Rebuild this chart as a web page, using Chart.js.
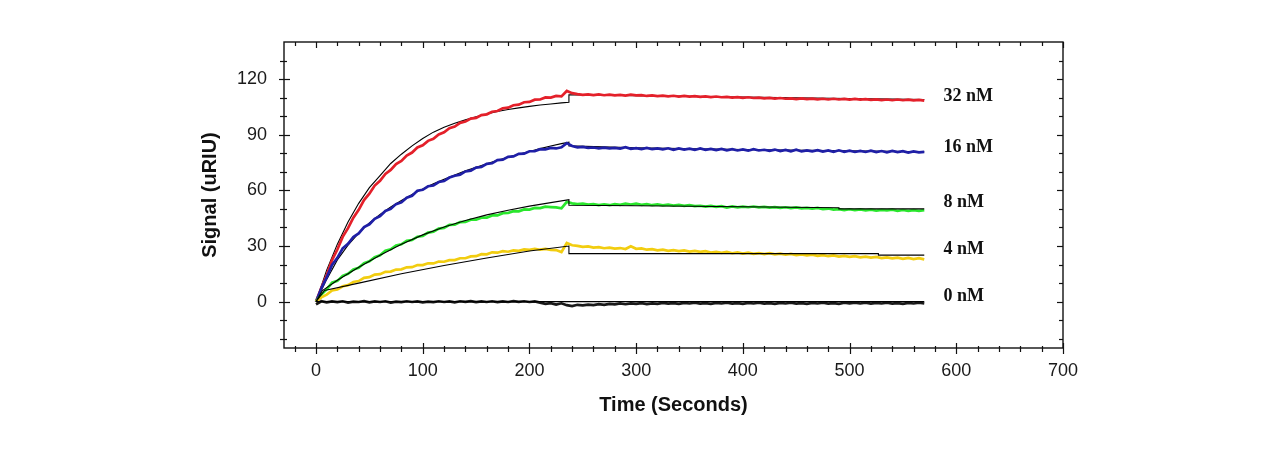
<!DOCTYPE html>
<html>
<head>
<meta charset="utf-8">
<script src="https://cdn.jsdelivr.net/npm/chart.js@4/dist/chart.umd.min.js"></script>
<style>
  html, body { margin: 0; padding: 0; background: #fff; }
  #wrap { width: 1280px; height: 450px; }
</style>
</head>
<body>
<div id="wrap"><canvas id="c" width="1280" height="450"></canvas></div>
<script>
// ---- sample times (s) ----
const times = [0,5,10,15,20,25,30,35,40,45,50,55,60,65,70,75,80,85,90,95,
  100,105,110,115,120,125,130,135,140,145,150,155,160,165,170,175,180,185,190,195,
  200,205,210,215,220,225,230,235,240,245,250,255,260,265,270,275,280,285,290,295,
  300,305,310,315,320,325,330,335,340,345,350,355,360,365,370,375,380,385,390,395,
  400,405,410,415,420,425,430,435,440,445,450,455,460,465,470,475,480,485,490,495,
  500,505,510,515,520,525,530,535,540,545,550,555,560,565,570];

// ---- measured signal (uRIU) ----
const nM32 = [0,7.5,14.2,22.4,28.1,34.9,39.6,45.3,49.5,54.8,58.2,62.6,65.2,68.9,71.0,74.2,75.9,78.8,80.4,83.1,
  84.3,86.7,87.8,90.1,91.3,93.5,94.4,96.4,97.1,98.7,99.1,100.6,101.0,102.4,102.8,104.2,104.6,105.9,106.2,107.5,
  107.7,108.9,109.0,110.1,110.0,110.9,110.7,113.6,112.4,111.9,111.5,111.8,111.4,111.7,111.3,111.6,111.2,111.5,111.1,111.6,
  111.2,111.3,110.9,111.2,110.8,111.1,110.7,111.0,110.6,110.9,110.5,110.8,110.4,110.7,110.3,110.6,110.2,110.4,110.0,110.3,
  109.9,110.2,109.8,110.0,109.6,109.9,109.5,109.8,109.4,109.6,109.2,109.6,109.2,109.5,109.1,109.4,109.0,109.4,109.0,109.3,
  108.9,109.3,108.9,109.2,108.8,109.1,108.7,109.0,108.6,109.0,108.6,108.9,108.5,108.8,108.4];
const nM16 = [0,7.2,13.1,19.8,23.6,28.7,31.2,34.9,36.8,40.2,41.7,44.6,46.1,48.9,50.0,52.6,53.5,56.0,57.1,59.8,
  60.3,62.2,62.6,64.5,65.0,66.9,67.9,68.5,70.2,70.6,72.3,72.6,74.3,74.6,76.3,76.6,78.1,78.3,79.7,79.8,
  81.1,81.1,82.2,82.1,82.9,82.6,83.2,85.5,83.9,83.2,83.4,82.9,83.1,82.7,83.0,82.6,82.9,82.5,83.3,82.4,
  82.8,82.3,82.9,82.2,82.6,82.1,82.7,81.9,82.6,82.0,82.5,81.8,82.6,81.9,82.4,81.7,82.3,81.6,82.2,81.5,
  82.1,81.4,82.2,81.5,81.9,81.3,82.0,81.2,81.8,81.1,81.9,81.0,81.6,81.0,81.7,80.9,81.5,80.8,81.6,80.8,
  81.4,80.7,81.3,80.7,81.4,80.6,81.2,80.5,81.3,80.6,81.1,80.4,81.0,80.5,80.8];
const nM8 = [0,3.8,6.6,10.2,11.2,13.9,15.0,17.3,18.2,20.7,21.7,24.0,25.0,27.4,28.2,30.3,30.9,32.8,33.2,35.0,
  35.4,37.2,37.7,39.4,39.8,41.4,41.5,42.9,43.0,44.2,44.2,45.3,45.3,46.5,46.5,47.7,47.8,48.8,48.7,49.7,
  49.6,50.5,50.4,51.2,51.0,50.8,50.3,53.8,53.0,52.6,52.9,52.3,52.6,52.1,52.5,52.0,52.6,52.2,52.9,52.3,
  52.8,52.2,52.6,52.0,52.4,51.9,52.3,51.8,52.2,51.6,52.0,51.5,51.7,51.2,51.6,51.1,51.5,50.7,51.3,50.8,
  51.2,50.9,51.3,50.8,51.1,50.7,51.0,50.6,50.9,50.4,50.8,50.3,50.6,50.2,50.5,49.9,50.2,49.6,49.9,49.4,
  49.8,49.3,49.7,49.2,49.6,49.1,49.5,49.2,49.6,49.0,49.4,48.9,49.3,48.9,49.3];
const nM4 = [0,2.3,3.8,6.0,6.5,8.3,8.9,10.6,11.1,12.8,13.2,14.6,14.8,16.1,16.2,17.3,17.4,18.5,18.6,19.7,
  19.7,20.7,20.6,21.6,21.5,22.4,22.4,23.4,23.4,24.4,24.5,25.6,25.5,26.6,26.4,27.2,26.9,27.6,27.4,28.2,
  27.9,28.5,28.0,28.4,27.9,27.8,26.7,31.6,30.4,30.1,29.5,29.8,29.1,29.4,28.8,29.1,28.6,28.9,28.4,29.9,
  28.5,28.7,28.0,28.3,27.7,28.0,27.4,27.8,27.2,27.6,27.0,27.4,26.8,27.2,26.5,26.9,26.3,26.8,26.1,26.6,
  25.9,26.4,25.8,26.2,25.6,26.1,25.5,25.9,25.3,25.7,25.1,25.5,24.9,25.3,24.7,25.1,24.5,24.9,24.3,24.7,
  24.1,24.5,23.9,24.3,23.7,24.1,23.5,23.9,23.3,23.7,23.1,23.6,22.9,23.4,22.8];
const nM0 = [-1.5,0.2,-0.4,0.1,-0.3,0.2,-0.5,0.0,-0.2,0.3,-0.4,0.1,-0.2,0.2,-0.5,0.0,-0.3,0.2,-0.2,0.1,
  -0.4,0.0,-0.3,0.2,-0.2,0.1,-0.4,0.2,-0.1,0.3,-0.3,0.1,-0.2,0.2,-0.3,0.1,-0.2,0.3,-0.1,0.2,
  -0.2,0.1,-0.5,-1.2,-0.8,-1.6,-0.9,-1.9,-2.4,-1.7,-2.0,-1.6,-1.9,-1.4,-1.7,-1.2,-1.5,-1.0,-1.4,-0.9,
  -1.2,-0.8,-1.3,-0.9,-1.2,-0.7,-1.1,-0.8,-1.2,-0.7,-1.0,-0.6,-1.1,-0.8,-1.2,-0.7,-1.0,-0.6,-1.1,-0.8,
  -1.2,-0.7,-1.0,-0.6,-1.1,-0.8,-1.2,-0.7,-1.0,-0.6,-1.1,-0.8,-1.2,-0.7,-1.0,-0.6,-1.1,-0.8,-1.2,-0.6,
  -0.9,-0.5,-1.0,-0.6,-1.1,-0.7,-1.0,-0.6,-1.1,-0.8,-1.2,-0.7,-1.0,-0.6,-1.0];

// ---- fitted curves ----
const fit32T = [0,10,20,30,40,50,60,70,80,90,100,110,120,130,140,150,160,170,180,190,200,210,220,230,237,237,260,300,350,400,450,500,540,570];
const fit32V = [0,17,31,43,53,61.5,68,74.5,79.5,84,88,91.4,94,96.2,98,99.7,101.2,102.5,103.6,104.5,105.3,106,106.6,107.2,107.5,111.5,111.4,111.1,110.7,110.3,109.9,109.5,109.2,109];
const fit16T = [0,10,20,30,40,50,60,70,80,90,100,110,120,130,140,150,160,170,180,190,200,210,220,230,237,237,300,400,500,570];
const fit16V = [0,12,22.5,30.5,37,42.5,47,51,54.5,57.8,60.8,63.5,66,68.3,70.5,72.5,74.4,76.2,77.9,79.5,81,82.5,83.9,85.2,86,84,83,82,81.3,80.8];
const fit8T = [0,6,20,40,60,80,100,120,140,160,180,200,220,237,237,300,400,490,490,570];
const fit8V = [0,6,11.5,18.5,25,31,36,40.3,43.8,46.8,49.3,51.5,53.4,55,52,51.7,51.2,50.6,50,50];
const fit4T = [0,8,40,80,120,160,200,237,237,527,527,570];
const fit4V = [0,6,10,15,19.5,23.5,27.3,30,25.9,25.9,25.1,25.1];
const fit0T = [0,570];
const fit0V = [0,0];

// ---- axis ticks & curve labels ----
const xTickValues = [0,100,200,300,400,500,600,700];
const yTickValues = [0,30,60,90,120];
const concLabels = ['32 nM','16 nM','8 nM','4 nM','0 nM'];
const concLabelX = [588,588,588,588,588];
const concLabelY = [110.5,83,53.6,28.2,2.8];

const pts = (t, v) => t.map((x, i) => ({x, y: v[i]}));

const dataLine = (d, color) => ({data: pts(times, d), borderColor: color, borderWidth: 2.7, pointRadius: 0, tension: 0, order: 2});
const fitLine = (t, v, order) => ({data: pts(t, v), borderColor: '#000', borderWidth: 1.1, pointRadius: 0, tension: 0, order});

const FONT = "'Liberation Sans', Arial, sans-serif";

const frame = {
  id: 'frame',
  afterDraw(chart) {
    const {ctx, chartArea: a, scales: {x, y}} = chart;
    ctx.save();
    ctx.strokeStyle = '#111';
    ctx.lineWidth = 1.4;
    ctx.strokeRect(a.left, a.top, a.right - a.left, a.bottom - a.top);
    ctx.lineWidth = 1.2;
    const seg = (x1, y1, x2, y2) => { ctx.beginPath(); ctx.moveTo(x1, y1); ctx.lineTo(x2, y2); ctx.stroke(); };
    for (let v = -20; v <= 700; v += 20) {
      const px = Math.round(x.getPixelForValue(v)) + 0.5;
      const major = v % 100 === 0;
      seg(px, a.bottom - (major ? 5 : 2), px, a.bottom + (major ? 6 : 4));
      seg(px, a.top, px, a.top + (major ? 6 : 4));
    }
    for (let v = -20; v <= 130; v += 10) {
      const py = Math.round(y.getPixelForValue(v)) + 0.5;
      const major = v % 30 === 0;
      seg(a.left - (major ? 5 : 4), py, a.left + (major ? 6 : 3), py);
      seg(a.right, py, a.right - (major ? 6 : 4), py);
    }
    ctx.fillStyle = '#111';
    ctx.font = "bold 18px 'Liberation Serif', 'Times New Roman', serif";
    ctx.textBaseline = 'middle';
    ctx.textAlign = 'left';
    concLabels.forEach((s, i) => {
      ctx.fillText(s, x.getPixelForValue(concLabelX[i]), y.getPixelForValue(concLabelY[i]));
    });
    ctx.restore();
  }
};

new Chart(document.getElementById('c'), {
  type: 'line',
  data: {
    datasets: [
      fitLine(fit0T, fit0V, 1),
      fitLine(fit4T, fit4V, 1),
      fitLine(fit8T, fit8V, 1),
      fitLine(fit16T, fit16V, 3),
      fitLine(fit32T, fit32V, 3),
      dataLine(nM0, '#1a1a1a'),
      dataLine(nM4, '#f2cd10'),
      dataLine(nM8, '#2ae62d'),
      dataLine(nM16, '#1f1fa6'),
      dataLine(nM32, '#e4202a')
    ]
  },
  options: {
    responsive: false,
    animation: false,
    devicePixelRatio: 1,
    layout: {padding: {left: 0, right: 217, top: 42, bottom: 0}},
    plugins: {legend: {display: false}, tooltip: {enabled: false}},
    scales: {
      x: {
        type: 'linear', min: -30, max: 700,
        afterBuildTicks: s => { s.ticks = xTickValues.map(v => ({value: v})); },
        afterFit: s => { s.height = 102; },
        grid: {display: false, drawTicks: false},
        border: {display: false},
        ticks: {font: {family: FONT, size: 18}, color: '#1a1a1a', padding: 12, maxRotation: 0, autoSkip: false},
        title: {display: true, text: 'Time (Seconds)', color: '#111',
          font: {family: FONT, size: 20, weight: 'bold'}, padding: {top: 0, bottom: 33}}
      },
      y: {
        type: 'linear', min: -25, max: 140,
        afterBuildTicks: s => { s.ticks = yTickValues.map(v => ({value: v})); },
        afterFit: s => { s.width = 284; },
        grid: {display: false, drawTicks: false},
        border: {display: false},
        ticks: {font: {family: FONT, size: 18}, color: '#1a1a1a', padding: 17, autoSkip: false},
        title: {display: true, text: 'Signal (uRIU)', color: '#111',
          font: {family: FONT, size: 20, weight: 'bold'}, padding: {top: 198, bottom: 0}}
      }
    }
  },
  plugins: [frame]
});
</script>
</body>
</html>
